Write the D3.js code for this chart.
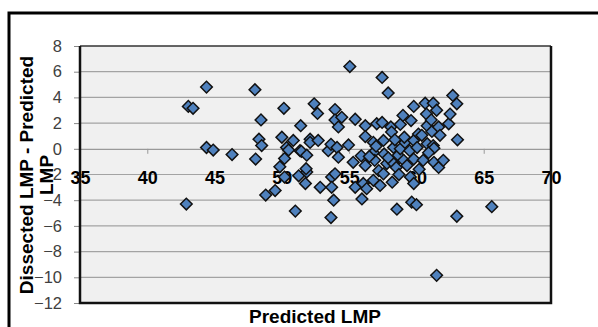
<!DOCTYPE html>
<html>
<head>
<meta charset="utf-8">
<script src="https://cdn.jsdelivr.net/npm/d3@7"></script>
<style>
  html, body { margin: 0; padding: 0; background: #fff; }
  svg { display: block; font-family: "Liberation Sans", Arial, sans-serif; }
</style>
</head>
<body>
<svg id="svg" width="598" height="327"></svg>
<script>
// predicted LMP (x) and dissected - predicted (y)
const predicted = [
  42.9, 43.05, 43.4, 44.4, 44.4, 44.9, 46.3, 48.0, 48.05, 48.3, 48.45, 48.5, 48.8, 49.5, 49.85,
  50.0, 50.15, 50.2, 50.35, 50.2, 50.5, 50.85, 51.0, 51.25, 51.4, 51.35, 51.45, 51.85, 51.85, 51.75,
  51.8, 52.1, 52.1, 52.4, 52.65, 52.7, 52.85, 53.45, 53.65, 53.7, 53.95, 53.7, 53.85, 53.65, 53.95,
  53.95, 54.2, 54.45, 54.1, 54.2, 54.95, 55.05, 55.45, 55.3, 55.45, 55.9, 55.95, 56.05, 56.2, 56.2,
  56.2, 56.3, 56.8, 56.8, 56.8, 56.9, 57.05, 57.2, 57.3, 57.45, 57.45, 57.55, 57.6, 57.55, 57.8,
  57.9, 58.1, 58.15, 58.2, 58.3, 58.3, 58.5, 58.55, 58.65, 58.8, 58.8, 59.0, 59.05, 59.15, 59.5,
  59.55, 59.6, 59.65, 59.8, 59.8, 59.8, 59.8, 60.0, 60.05, 60.15, 60.4, 60.5, 60.65, 60.75, 60.8,
  60.8, 61.1, 61.15, 61.25, 61.25, 61.3, 61.3, 61.5, 61.5, 61.65, 61.65, 61.75, 62.0, 62.4, 62.5,
  62.7, 63.0, 63.0, 63.05, 65.6, 59.1, 58.4, 57.0, 56.5, 59.3, 60.2, 58.7, 57.9, 60.9
];
const difference = [
  -4.3, 3.3, 3.15, 4.8, 0.1, -0.1, -0.45, 4.6, -0.8, 0.75, 2.25, 0.25, -3.6, -3.25, -1.4,
  0.9, 3.15, -0.75, 0.1, -2.2, -0.1, 0.65, -4.85, -2.1, 1.8, -0.15, -0.2, -0.5, -1.8, -2.7,
  -1.55, 0.75, 0.5, 3.5, 2.75, 0.65, -3.0, -0.15, 0.35, -2.2, -1.95, -3.0, -4.0, -5.35, 3.05,
  2.25, 1.7, 2.45, 0.1, -0.65, 0.3, 6.4, 2.3, -1.05, -3.0, -0.55, -3.9, -2.7, 1.8, 0.95,
  -1.3, -3.1, 0.5, -0.3, -2.45, -0.9, 1.95, -1.7, -2.85, 5.55, 2.05, 0.65, -0.4, -1.95, -1.15,
  4.35, 1.7, 1.3, -2.6, 0.1, -1.15, -1.45, -4.7, -0.5, 1.9, 0.0, 2.6, -0.9, 0.5, -0.15,
  -2.2, 2.2, -4.15, 3.3, 0.65, -0.8, -2.7, -4.35, 0.1, 1.15, 1.05, -0.9, 3.55, 2.7, 1.8,
  0.4, 2.25, 1.35, 3.55, 0.25, 0.05, -1.05, 3.0, -9.85, 1.7, -1.45, 1.05, -0.9, 1.95, 2.7,
  4.15, 3.5, -5.25, 0.7, -4.5, 0.9, 0.7, 0.2, -0.6, -1.3, -1.6, -2.0, -0.7, -0.3
];
const xTicks = [35, 40, 45, 50, 55, 60, 65, 70];
const yTicks = [-12, -10, -8, -6, -4, -2, 0, 2, 4, 6, 8];

const plot = {left: 80, right: 551, top: 46, bottom: 303};

const svg = d3.select('#svg');

// outer chart border (only top and left are inside the picture)
svg.append('path')
  .attr('d', 'M9,330 V13 H600')
  .attr('fill', 'none')
  .attr('stroke', '#000')
  .attr('stroke-width', 3);

const x = d3.scaleLinear().domain([35, 70]).range([plot.left, plot.right]);
const y = d3.scaleLinear().domain([-12, 8]).range([plot.bottom, plot.top]);

svg.append('rect')
  .attr('x', plot.left).attr('y', plot.top)
  .attr('width', plot.right - plot.left)
  .attr('height', plot.bottom - plot.top)
  .attr('fill', '#f0f0f0');

svg.append('g')
  .selectAll('line')
  .data(yTicks.filter(d => d > -12 && d < 8 && d !== 0))
  .enter()
  .append('line')
  .attr('x1', plot.left).attr('x2', plot.right)
  .attr('y1', d => y(d)).attr('y2', d => y(d))
  .attr('stroke', '#a3a3a3')
  .attr('stroke-width', 1.2);

// y axis
const yAxis = svg.append('g')
  .attr('transform', `translate(${plot.left},0)`)
  .call(d3.axisLeft(y).tickValues(yTicks).tickSize(6).tickPadding(12).tickFormat(d3.format('d')));
yAxis.select('.domain').remove();
yAxis.selectAll('line').attr('stroke', '#888');
yAxis.selectAll('text')
  .attr('font-size', 16.5)
  .attr('fill', '#404040')
  .attr('font-family', '"Liberation Sans", Arial, sans-serif');

// x axis crossing at y = 0
const xAxis = svg.append('g')
  .attr('transform', `translate(0,${y(0)})`)
  .call(d3.axisBottom(x).tickValues(xTicks).tickSize(5).tickSizeOuter(0));
xAxis.select('.domain').attr('stroke', '#999').attr('stroke-width', 1.2);
xAxis.selectAll('line').attr('stroke', '#999');
xAxis.selectAll('.tick').filter(d => d === 35 || d === 70).select('line').remove();
xAxis.selectAll('text')
  .attr('y', 35)
  .attr('dy', 0)
  .attr('font-size', 18)
  .attr('font-weight', 'bold')
  .attr('fill', '#000')
  .attr('font-family', '"Liberation Sans", Arial, sans-serif');

// plot frame
svg.append('line')
  .attr('x1', plot.left).attr('x2', plot.right)
  .attr('y1', plot.top).attr('y2', plot.top)
  .attr('stroke', '#333').attr('stroke-width', 1.5);
svg.append('path')
  .attr('d', `M${plot.left},${plot.top} V${plot.bottom} H${plot.right} V${plot.top}`)
  .attr('fill', 'none')
  .attr('stroke', '#111')
  .attr('stroke-width', 2.5);

// points
const points = predicted.map((p, i) => ({x: p, y: difference[i]}));
const diamond = d3.symbol().type(d3.symbolSquare).size(68);
svg.append('g')
  .selectAll('path')
  .data(points)
  .enter()
  .append('path')
  .attr('d', diamond)
  .attr('transform', d => `translate(${x(d.x)},${y(d.y)}) rotate(45)`)
  .attr('fill', '#4f81bd')
  .attr('stroke', '#111')
  .attr('stroke-width', 1.5);

// axis titles
svg.append('text')
  .attr('x', 315).attr('y', 323)
  .attr('text-anchor', 'middle')
  .attr('font-size', 19)
  .attr('font-weight', 'bold')
  .text('Predicted LMP');

const yTitle = svg.append('text')
  .attr('transform', 'translate(0,175) rotate(-90)')
  .attr('text-anchor', 'middle')
  .attr('font-size', 19)
  .attr('font-weight', 'bold');
yTitle.append('tspan').attr('x', 0).attr('y', 33).text('Dissected LMP - Predicted');
yTitle.append('tspan').attr('x', 0).attr('y', 53).text('LMP');
</script>
</body>
</html>
